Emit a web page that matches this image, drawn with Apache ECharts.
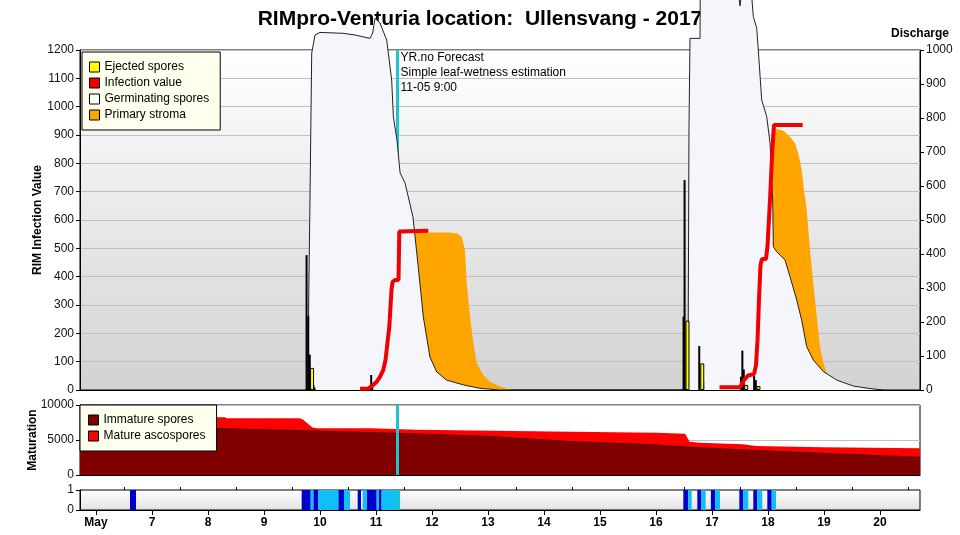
<!DOCTYPE html>
<html><head><meta charset="utf-8">
<script src="https://cdn.jsdelivr.net/npm/echarts@6/dist/echarts.min.js"></script>
<style>html,body{margin:0;padding:0;background:#fff}#c{width:960px;height:535px}</style>
</head><body><div id="c"></div>
<script>
// x values are decimal days of May 2017
var xMin = 5 + 5 / 7, xMax = 20 + 5 / 7;
var dayTicks = [6, 7, 8, 9, 10, 11, 12, 13, 14, 15, 16, 17, 18, 19, 20];
var halfDayTicks = [6.5, 7.5, 8.5, 9.5, 10.5, 11.5, 12.5, 13.5, 14.5, 15.5, 16.5, 17.5, 18.5, 19.5, 20.5];
var forecastDay = 11.375;
var forecastText = ['YR.no Forecast', 'Simple leaf-wetness estimation', '11-05 9:00'];

var germinatingSpores = [
  [9.786, 0], [9.80, 350], [9.821, 670], [9.852, 1189], [9.911, 1253], [10.0, 1262], [10.411, 1259], [10.625, 1253],
  [10.893, 1241], [10.94, 1260], [10.982, 1312], [11.071, 1295], [11.191, 1235], [11.28, 1094], [11.31, 964], [11.339, 960],
  [11.375, 882], [11.43, 766], [11.518, 731], [11.66, 611], [11.755, 434], [11.845, 258], [11.964, 116], [12.084, 64],
  [12.26, 35], [12.56, 18], [12.857, 6], [13.21, 0],
  [16.571, 0], [16.589, 918], [16.607, 1241], [16.786, 1241], [16.79, 1412], [17.464, 1412], [17.5, 1355], [17.536, 1412],
  [17.70, 1412], [17.738, 1318], [17.798, 1277], [17.827, 1200], [17.887, 1024], [17.977, 965], [18.036, 872], [18.084, 671],
  [18.095, 506], [18.155, 488], [18.304, 459], [18.393, 400], [18.512, 318], [18.601, 247], [18.691, 153], [18.809, 106],
  [18.988, 65], [19.227, 35], [19.523, 14], [19.821, 5], [20.06, 0]
];
var primaryStroma = [
  [11.37, 0], [11.38, 556], [12.30, 556], [12.45, 552], [12.53, 541], [12.589, 494], [12.62, 378], [12.679, 259],
  [12.738, 166], [12.798, 95], [12.916, 53], [13.036, 29], [13.214, 12], [13.362, 2.5], [13.43, 0],
  [18.08, 0], [18.085, 923], [18.125, 923], [18.273, 915], [18.393, 894], [18.482, 871], [18.541, 835], [18.602, 776],
  [18.643, 706], [18.691, 635], [18.75, 494], [18.809, 376], [18.87, 259], [18.929, 153], [18.988, 94], [19.077, 47],
  [19.143, 25], [19.286, 0]
];
var infectionValue = [
  [10.714, 4], [10.857, 5], [10.929, 14], [11.012, 29], [11.071, 46], [11.13, 71], [11.17, 106], [11.19, 141],
  [11.214, 184], [11.238, 223], [11.255, 282], [11.277, 353], [11.295, 381], [11.339, 388], [11.402, 388],
  [11.416, 559], [11.934, 562], [14.5, '-'],
  [17.134, 9.5], [17.5, 9.5], [17.571, 35], [17.643, 51], [17.75, 56], [17.786, 88], [17.813, 176], [17.839, 318],
  [17.866, 441], [17.893, 462], [17.964, 462], [17.991, 508], [18.036, 671], [18.077, 847], [18.107, 935], [18.619, 935]
];
var hourlyDischarge = [
  [9.778, 476], [9.808, 260], [9.835, 125], [9.88, 40], [9.90, 18], [9.92, 8],
  [10.915, 12], [10.932, 53], [10.95, 18],
  [16.51, 259], [16.528, 741], [16.79, 155], [16.86, 29],
  [17.535, 47], [17.56, 139], [17.585, 73], [17.77, 49], [17.80, 35]
];
var ejectedSpores = [[9.858, 78], [16.562, 245], [16.826, 94], [17.61, 18], [17.83, 14]];

var maturationDays = [5.714, 8.30, 8.34, 9.64, 9.70, 9.80, 9.87, 9.94, 10.92, 10.94, 11.73, 11.75, 13.09, 13.11, 14.49,
  14.51, 16.01, 16.03, 16.52, 16.60, 16.78, 16.80, 17.55, 17.57, 17.79, 17.81, 18.98, 19.00, 20.714];
var immatureSpores = [7200, 6600, 6590, 6333, 6320, 6300, 6280, 6260, 6048, 6045, 5860, 5855, 5476, 5470, 4762,
  4755, 4286, 4280, 4000, 3952, 3900, 3895, 3571, 3565, 3480, 3475, 3095, 3090, 2524];
// upper edge of the red band (immature + mature ascospores)
var allSpores = [8250, 8250, 8100, 8100, 7900, 7200, 6800, 6667, 6667, 6476, 6476, 6381, 6333, 6190, 6190,
  6048, 6048, 5905, 5905, 4762, 4619, 4381, 4381, 4143, 4143, 3952, 3952, 3810, 3810];

var wetDark = [[6.607, 6.714], [9.673, 9.834], [9.881, 9.97], [10.327, 10.429], [10.673, 10.732], [10.833, 11.012],
  [11.054, 11.10], [16.488, 16.577], [16.738, 16.804], [16.98, 17.054], [17.488, 17.559], [17.738, 17.809], [17.988, 18.066]];
var wetLight = [[9.834, 9.881], [9.97, 10.327], [10.429, 10.536], [10.762, 10.833], [11.012, 11.054], [11.10, 11.43],
  [16.577, 16.637], [16.804, 16.887], [17.054, 17.143], [17.559, 17.648], [17.809, 17.898], [18.066, 18.143]];

var FONT = '"Liberation Sans", Arial, sans-serif';
var chart = echarts.init(document.getElementById('c'), null, {renderer: 'canvas'});
function grad(a, b) { return new echarts.graphic.LinearGradient(0, 0, 0, 1, [{offset: 0, color: a}, {offset: 1, color: b}]); }
function zip(xs, ys) { return xs.map(function (x, i) { return [x, ys[i]]; }); }
var cyan = '#1fc4cf';
function fLine() {
  return {symbol: ['none', 'none'], silent: true, label: {show: false}, lineStyle: {color: cyan, width: 3, type: 'solid'},
    data: [{xAxis: forecastDay}], animation: false};
}
var plain = function (v) { return String(v); };
var labelStyle = {fontFamily: FONT, fontSize: 12, color: '#111', formatter: plain};
var nameStyle = {fontFamily: FONT, fontSize: 12, fontWeight: 'bold', color: '#000'};
var legendBase = {orient: 'vertical', backgroundColor: '#ffffee', borderColor: '#000', borderWidth: 1, z: 30,
  itemWidth: 10, itemHeight: 10, itemGap: 4, selectedMode: false, icon: 'rect',
  itemStyle: {borderColor: '#000', borderWidth: 1}, textStyle: {fontFamily: FONT, fontSize: 12, color: '#000'}};

var option = {
  animation: false,
  backgroundColor: '#fff',
  title: {text: 'RIMpro-Venturia location:  Ullensvang - 2017', left: 'center', top: 4,
    textStyle: {fontFamily: FONT, fontSize: 21, fontWeight: 'bold', color: '#000'}},
  legend: [
    Object.assign({}, legendBase, {left: 82, top: 52, padding: [9, 11, 9, 7],
      data: [
        {name: 'Ejected spores', itemStyle: {color: '#ffff00'}},
        {name: 'Infection value', itemStyle: {color: '#ee0000'}},
        {name: 'Germinating spores', itemStyle: {color: '#ffffff'}},
        {name: 'Primary stroma', itemStyle: {color: '#ffa500'}}
      ]}),
    Object.assign({}, legendBase, {left: 80, top: 405, padding: [9, 11, 9, 8],
      data: [
        {name: 'Immature spores', itemStyle: {color: '#800000'}},
        {name: 'Mature ascospores', itemStyle: {color: '#ff0000'}}
      ]})
  ],
  grid: [
    {left: 80, right: 40, top: 50, height: 340, show: true, backgroundColor: grad('#ffffff', '#d2d2d2'), borderColor: '#000', borderWidth: 1},
    {left: 80, right: 40, top: 405, height: 70, show: true, backgroundColor: '#ffffff', borderColor: '#000', borderWidth: 1},
    {left: 80, right: 40, top: 490, height: 20, show: true, backgroundColor: grad('#ffffff', '#e2e2e2'), borderColor: '#000', borderWidth: 1}
  ],
  xAxis: [
    {gridIndex: 0, type: 'value', min: xMin, max: xMax, axisLine: {lineStyle: {color: '#000'}}, axisTick: {show: false}, axisLabel: {show: false}, splitLine: {show: false}},
    {gridIndex: 1, type: 'value', min: xMin, max: xMax, axisLine: {lineStyle: {color: '#000'}}, axisTick: {show: false}, axisLabel: {show: false}, splitLine: {show: false}},
    {gridIndex: 2, type: 'value', min: xMin, max: xMax, axisLine: {lineStyle: {color: '#000'}},
      axisTick: {show: true, customValues: dayTicks, length: 5, lineStyle: {color: '#000'}},
      axisLabel: {show: true, customValues: dayTicks, margin: 7, fontFamily: FONT, fontSize: 12, fontWeight: 'bold', color: '#000',
        formatter: function (v) { return Math.round(v) === 6 ? 'May' : String(Math.round(v)); }},
      splitLine: {show: false}},
    {gridIndex: 2, type: 'value', min: xMin, max: xMax, axisLine: {show: false},
      axisTick: {show: true, customValues: halfDayTicks, length: 3, lineStyle: {color: '#000'}},
      axisLabel: {show: false}, splitLine: {show: false}}
  ],
  yAxis: [
    {gridIndex: 0, type: 'value', min: 0, max: 1200, interval: 100, position: 'left',
      name: 'RIM Infection Value', nameLocation: 'middle', nameGap: 36, nameRotate: 90, nameMoveOverlap: false,
      nameTextStyle: nameStyle,
      axisLine: {show: true, lineStyle: {color: '#000'}}, axisTick: {show: true, length: 4, lineStyle: {color: '#000'}},
      axisLabel: Object.assign({margin: 6}, labelStyle), splitLine: {show: true, lineStyle: {color: '#c0c0c0', width: 1}}},
    {gridIndex: 0, type: 'value', min: 0, max: 1000, interval: 100, position: 'right',
      name: 'Discharge', nameLocation: 'end', nameGap: 10,
      nameTextStyle: nameStyle,
      axisLine: {show: true, lineStyle: {color: '#000'}}, axisTick: {show: true, length: 4, lineStyle: {color: '#000'}},
      axisLabel: Object.assign({margin: 6}, labelStyle), splitLine: {show: false}},
    {gridIndex: 1, type: 'value', min: 0, max: 10000, interval: 5000,
      name: 'Maturation', nameLocation: 'middle', nameGap: 41, nameRotate: 90, nameMoveOverlap: false,
      nameTextStyle: nameStyle,
      axisLine: {show: true, lineStyle: {color: '#000'}}, axisTick: {show: true, length: 4, lineStyle: {color: '#000'}},
      axisLabel: Object.assign({margin: 6}, labelStyle), splitLine: {show: true, lineStyle: {color: '#c0c0c0'}}},
    {gridIndex: 2, type: 'value', min: 0, max: 1, interval: 1,
      axisLine: {show: true, lineStyle: {color: '#000'}}, axisTick: {show: true, length: 4, lineStyle: {color: '#000'}},
      axisLabel: Object.assign({margin: 6}, labelStyle), splitLine: {show: false}}
  ],
  series: [
    {name: 'Primary stroma', type: 'line', xAxisIndex: 0, yAxisIndex: 0, data: primaryStroma, showSymbol: false, symbol: 'none',
      lineStyle: {width: 0, color: '#ffa500'}, itemStyle: {color: '#ffa500'}, areaStyle: {color: '#ffa500', opacity: 1}, z: 3},
    {name: 'Germinating spores', type: 'line', xAxisIndex: 0, yAxisIndex: 0, data: germinatingSpores, showSymbol: false, symbol: 'none',
      clip: false, lineStyle: {width: 1, color: '#222'}, itemStyle: {color: '#ffffff'}, areaStyle: {color: '#f4f6fc', opacity: 1}, z: 7},
    {name: 'Spore discharge', type: 'bar', xAxisIndex: 0, yAxisIndex: 0, data: hourlyDischarge, barWidth: 2, barGap: '-100%',
      itemStyle: {color: '#000'}, z: 8},
    {name: 'Ejected spores', type: 'bar', xAxisIndex: 0, yAxisIndex: 0, data: ejectedSpores, barWidth: 4, barGap: '-100%',
      itemStyle: {color: '#ffff00', borderColor: '#000', borderWidth: 1}, z: 8},
    {name: 'Infection value', type: 'line', xAxisIndex: 0, yAxisIndex: 0, data: infectionValue, showSymbol: false, symbol: 'none',
      connectNulls: false, lineStyle: {width: 4, color: '#f00000'}, itemStyle: {color: '#ee0000'}, z: 9},
    {name: 'forecast', type: 'line', xAxisIndex: 0, yAxisIndex: 0, data: [], z: 10, markLine: fLine(),
      markPoint: {symbol: 'rect', symbolSize: 1, itemStyle: {color: 'rgba(0,0,0,0)'}, silent: true,
        data: [{coord: [forecastDay, 1200]}],
        label: {show: true, position: [4, 1], align: 'left', verticalAlign: 'top', lineHeight: 15,
          fontFamily: FONT, fontSize: 12, color: '#000', formatter: forecastText.join('\n')}}},
    {name: 'Mature ascospores', type: 'line', xAxisIndex: 1, yAxisIndex: 2, data: zip(maturationDays, allSpores),
      showSymbol: false, symbol: 'none', lineStyle: {width: 0, color: '#ff0000'}, itemStyle: {color: '#ff0000'},
      areaStyle: {color: '#ff0000', opacity: 1}, z: 3},
    {name: 'Immature spores', type: 'line', xAxisIndex: 1, yAxisIndex: 2, data: zip(maturationDays, immatureSpores),
      showSymbol: false, symbol: 'none', lineStyle: {width: 1, color: '#4a0000'}, itemStyle: {color: '#800000'},
      areaStyle: {color: '#800000', opacity: 1}, z: 4},
    {name: 'forecast2', type: 'line', xAxisIndex: 1, yAxisIndex: 2, data: [], z: 10, markLine: fLine()},
    {name: 'wetness', type: 'line', xAxisIndex: 2, yAxisIndex: 3, data: [], z: 3,
      markArea: {silent: true, data:
        wetDark.map(function (r) { return [{xAxis: r[0], itemStyle: {color: '#0000cc'}}, {xAxis: r[1]}]; })
        .concat(wetLight.map(function (r) { return [{xAxis: r[0], itemStyle: {color: '#10bff8'}}, {xAxis: r[1]}]; }))}},
    {name: 'forecast3', type: 'line', xAxisIndex: 2, yAxisIndex: 3, data: [], z: 10, markLine: fLine()}
  ]
};
chart.setOption(option);
</script>
</body></html>
